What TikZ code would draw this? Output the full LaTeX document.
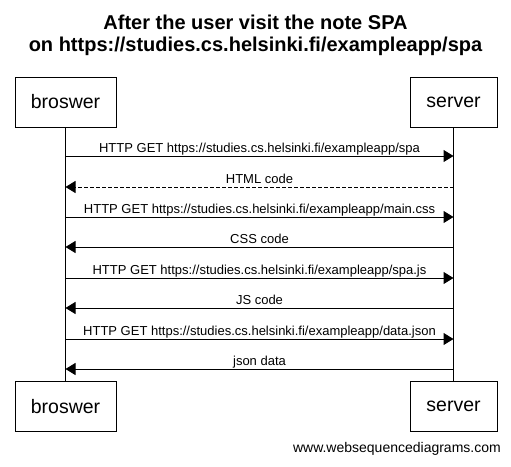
\documentclass[tikz,border=0pt]{standalone}
\usepackage{fontspec}
\setmainfont{Liberation Sans}
\usetikzlibrary{arrows.meta, positioning}

\begin{document}
\begin{tikzpicture}[
    x=1pt, y=-1pt,
    every node/.style={font=\fontsize{13}{15}\selectfont},
    actor/.style={rectangle, draw=black, fill=white, minimum height=50pt, inner sep=0pt, line width=1pt, font=\fontsize{19.5}{22}\selectfont},
    life/.style={draw=black, line width=1pt},
    msg/.style={-{Triangle[length=10pt, width=12pt]}, draw=black, line width=1pt},
    reply/.style={msg, dash pattern=on 4pt off 2pt},
    lbl/.style={anchor=base, yshift=4pt, inner sep=0pt}
]
\useasboundingbox (0,0) rectangle (511,466);

% Title
\node[font=\bfseries\fontsize{20}{22}\selectfont, align=center, anchor=north, inner sep=0pt] (title) at (255.5,14.5) {After the user visit the note SPA\\on https://studies.cs.helsinki.fi/exampleapp/spa};

% Actors
\node[actor, minimum width=101pt] (Btop) at (65.5,102) {broswer};
\node[actor, minimum width=87pt] (Stop) at (453.5,102) {server};
\node[actor, minimum width=101pt] (Bbot) at (65.5,406.5) {broswer};
\node[actor, minimum width=87pt] (Sbot) at (453.5,406.5) {server};

% Lifelines
\draw[life] (Btop.south) -- (Bbot.north);
\draw[life] (Stop.south) -- (Sbot.north);

% Message points
\foreach \i/\y in {1/156,2/187,3/217,4/247,5/278,6/308,7/339,8/369} {
    \coordinate (B\i) at (65.5,\y);
    \coordinate (S\i) at (453.5,\y);
}

% Messages
\draw[msg] (B1) -- node[lbl] {HTTP GET https://studies.cs.helsinki.fi/exampleapp/spa} (S1);
\draw[reply] (S2) -- node[lbl] {HTML code} (B2);
\draw[msg] (B3) -- node[lbl] {HTTP GET https://studies.cs.helsinki.fi/exampleapp/main.css} (S3);
\draw[msg] (S4) -- node[lbl] {CSS code} (B4);
\draw[msg] (B5) -- node[lbl] {HTTP GET https://studies.cs.helsinki.fi/exampleapp/spa.js} (S5);
\draw[msg] (S6) -- node[lbl] {JS code} (B6);
\draw[msg] (B7) -- node[lbl] {HTTP GET https://studies.cs.helsinki.fi/exampleapp/data.json} (S7);
\draw[msg] (S8) -- node[lbl] {json data} (B8);

% Footer
\node[font=\fontsize{14}{16}\selectfont, anchor=base east, inner sep=0pt] (credit) at (501,452) {www.websequencediagrams.com};

\end{tikzpicture}
\end{document}
